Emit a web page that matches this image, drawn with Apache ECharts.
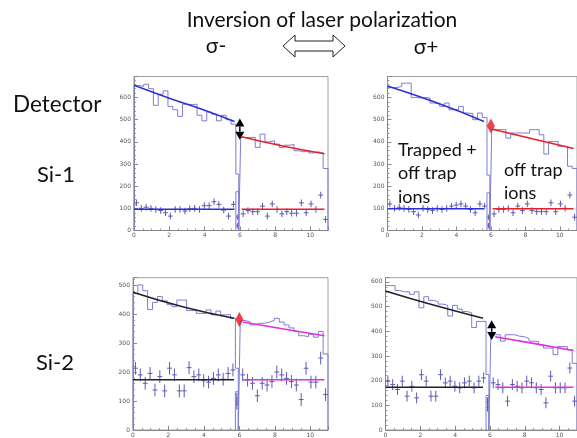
<!DOCTYPE html>
<html>
<head>
<meta charset="utf-8">
<script src="https://cdn.jsdelivr.net/npm/echarts@6/dist/echarts.min.js"></script>
<style>
html,body{margin:0;padding:0;background:#fff}
#main{width:577px;height:438px}
</style>
</head>
<body>
<div id="main"></div>
<script>
// binning: 40 bins of 0.275 on 0..11, the bin at the switch (21) is split in two
var BIN = 0.275, NBINS = 40, GAP_BIN = 21, GAP_SPLIT = 5.94;
var xTicks = ['0', '2', '4', '6', '8', '10'];

// Si-1, sigma-
var si1mTopL = [655, 650, 660, 640, 565, 615, 630, 560, 545, 515, 570, 568, 570, 520, 495, 535, 525, 495, 520, 500, 480];
var si1mTopGap = [255, 0];
var si1mTopR = [420, 420, 420, 375, 435, 400, 405, 390, 375, 385, 388, 360, 355, 360, 350, 355, 350, 280];
var si1mLowL = [125, 100, 105, 100, 95, 90, 80, 65, 95, 95, 88, 98, 100, 95, 112, 112, 130, 118, 92, 65, 118];
var si1mLowR = [75, 90, 85, 85, 110, 65, 120, 95, 75, 85, 78, 78, 125, 80, 120, 95, 160, 50];
var si1mLowGap = [175, 60, 22];
var si1mFitL = [[0, 655], [2, 597], [4, 543], [5.7, 492]];
var si1mFitR = [[6.1, 423], [8.5, 380], [10.8, 346]];
var si1mFlat = 96;
var si1mArrow = [6.0, 505, 410];

// Si-1, sigma+
var si1pTopL = [645, 645, 650, 665, 665, 600, 598, 600, 598, 575, 570, 560, 575, 545, 545, 560, 530, 528, 500, 530, 510];
var si1pTopGap = [250, 0];
var si1pTopR = [455, 455, 455, 417, 440, 440, 440, 440, 455, 455, 432, 345, 402, 402, 380, 378, 290, 280];
var si1pLowL = [120, 100, 105, 100, 95, 85, 70, 100, 95, 90, 100, 95, 100, 110, 115, 120, 110, 95, 80, 120, 110];
var si1pLowR = [75, 95, 95, 100, 80, 110, 90, 120, 90, 85, 85, 85, 125, 85, 120, 100, 160, 60];
var si1pLowGap = [170, 60, 22];
var si1pFitL = [[0, 652], [2.9, 575], [5.6, 492]];
var si1pFitR = [[6.1, 457], [8.4, 414], [10.8, 370]];
var si1pFlat = 98;
var si1pDiamond = [6.0, 472];

// Si-2, sigma-
var si2mTopL = [470, 500, 480, 415, 440, 460, 445, 432, 425, 448, 448, 412, 412, 402, 402, 414, 397, 410, 397, 398, 385];
var si2mTopGap = [213, 0];
var si2mTopR = [378, 372, 362, 368, 368, 372, 378, 385, 372, 362, 352, 340, 325, 322, 330, 320, 340, 262];
var si2mLowL = [213, 190, 161, 195, 138, 184, 135, 213, 190, 135, 135, 215, 184, 190, 170, 165, 178, 190, 175, 195, 207];
var si2mLowR = [190, 172, 161, 118, 161, 155, 167, 200, 190, 178, 167, 155, 105, 213, 165, 165, 248, 122];
var si2mLowGap = [132, 110, 88];
var si2mFitL = [[0, 475], [2.8, 425], [5.7, 385]];
var si2mFitR = [[6.2, 372], [8.5, 348], [10.8, 325]];
var si2mFlat = 173;
var si2mDiamond = [6.0, 381];

// Si-2, sigma+
var si2pTopL = [585, 585, 565, 560, 560, 550, 560, 495, 540, 525, 520, 510, 505, 462, 505, 490, 480, 475, 415, 440, 440];
var si2pTopGap = [225, 0];
var si2pTopR = [386, 386, 360, 386, 386, 380, 378, 370, 360, 358, 345, 332, 332, 305, 338, 338, 325, 270];
var si2pLowL = [198, 184, 164, 198, 137, 177, 130, 224, 198, 137, 137, 224, 191, 198, 177, 171, 191, 198, 171, 198, 211];
var si2pLowR = [191, 184, 171, 117, 184, 177, 171, 198, 191, 171, 164, 110, 218, 171, 171, 171, 251, 117];
var si2pLowGap = [140, 115, 92];
var si2pFitL = [[0, 563], [2.8, 505], [5.6, 453]];
var si2pFitR = [[6.3, 378], [8.4, 352], [10.8, 322]];
var si2pFlat = 173;
var si2pArrow = [6.1, 445, 365];

var HIST = '#7d7dd2', CROSS = '#5b5bb2';

var panels = [
  {grid: {left: 134, top: 76.5, width: 194, height: 154}, ymax: 695, err: 15,
   top: [si1mTopL, si1mTopGap, si1mTopR], low: [si1mLowL, si1mLowR], lowGap: si1mLowGap,
   fitL: si1mFitL, fitR: si1mFitR, flat: si1mFlat, cL: '#2f2fd8', cR: '#e8202a', arrow: si1mArrow},
  {grid: {left: 387.5, top: 76.5, width: 194.5, height: 154}, ymax: 695, err: 15,
   top: [si1pTopL, si1pTopGap, si1pTopR], low: [si1pLowL, si1pLowR], lowGap: si1pLowGap,
   fitL: si1pFitL, fitR: si1pFitR, flat: si1pFlat, cL: '#2f2fd8', cR: '#e8202a', diamond: si1pDiamond},
  {grid: {left: 133, top: 277.7, width: 195, height: 152.3}, ymax: 525, err: 22,
   top: [si2mTopL, si2mTopGap, si2mTopR], low: [si2mLowL, si2mLowR], lowGap: si2mLowGap,
   fitL: si2mFitL, fitR: si2mFitR, flat: si2mFlat, cL: '#222', cR: '#e030e0', diamond: si2mDiamond},
  {grid: {left: 385.5, top: 277.7, width: 194.7, height: 153}, ymax: 617, err: 22,
   top: [si2pTopL, si2pTopGap, si2pTopR], low: [si2pLowL, si2pLowR], lowGap: si2pLowGap,
   fitL: si2pFitL, fitR: si2pFitR, flat: si2pFlat, cL: '#222', cR: '#e030e0', arrow: si2pArrow}
];

// bin edges, with the extra split inside the switching bin
var edges = [];
for (var i = 0; i <= NBINS; i++) {
  edges.push(Math.round(i * BIN * 1000) / 1000);
  if (i === GAP_BIN) edges.push(GAP_SPLIT);
}

function renderCross(params, api) {
  var x = api.value(0), y = api.value(1), hw = api.value(2), er = api.value(3);
  var l = api.coord([x - hw, y]), r = api.coord([x + hw, y]);
  var t = api.coord([x, y + er]), b = api.coord([x, y - er]);
  return {type: 'group', children: [
    {type: 'line', shape: {x1: l[0], y1: l[1], x2: r[0], y2: r[1]}, style: {stroke: CROSS, lineWidth: 1}},
    {type: 'line', shape: {x1: t[0], y1: t[1], x2: b[0], y2: b[1]}, style: {stroke: CROSS, lineWidth: 1}}
  ]};
}

function renderArrow(params, api) {
  var p1 = api.coord([api.value(0), api.value(1)]);
  var p2 = api.coord([api.value(0), api.value(2)]);
  var w = 4.5, h = 8;
  return {type: 'group', children: [
    {type: 'line', shape: {x1: p1[0], y1: p1[1] + h, x2: p2[0], y2: p2[1] - h}, style: {stroke: '#000', lineWidth: 1.5}},
    {type: 'polygon', shape: {points: [[p1[0], p1[1]], [p1[0] - w, p1[1] + h], [p1[0] + w, p1[1] + h]]}, style: {fill: '#000'}},
    {type: 'polygon', shape: {points: [[p2[0], p2[1]], [p2[0] - w, p2[1] - h], [p2[0] + w, p2[1] - h]]}, style: {fill: '#000'}}
  ]};
}

var grids = [], xAxes = [], yAxes = [], series = [];
var axisFont = {fontSize: 6, color: '#555', fontFamily: 'DejaVu Sans'};

panels.forEach(function (p, k) {
  grids.push(Object.assign({show: true, borderColor: '#a0a0a0', borderWidth: 1, containLabel: false}, p.grid));
  xAxes.push({
    type: 'value', gridIndex: k, min: 0, max: 11, interval: 2,
    axisLine: {show: true, lineStyle: {color: '#888'}},
    axisTick: {inside: true, length: 4, lineStyle: {color: '#888'}},
    minorTick: {show: true, splitNumber: 4, length: 2, lineStyle: {color: '#999'}},
    splitLine: {show: false},
    axisLabel: Object.assign({margin: 2, showMaxLabel: false,
      formatter: function (v) { return xTicks[v / 2] || ''; }}, axisFont)
  });
  yAxes.push({
    type: 'value', gridIndex: k, min: 0, max: p.ymax, interval: 100,
    axisLine: {show: true, lineStyle: {color: '#888'}},
    axisTick: {inside: true, length: 4, lineStyle: {color: '#888'}},
    minorTick: {show: true, splitNumber: 5, length: 2, lineStyle: {color: '#999'}},
    splitLine: {show: false},
    axisLabel: Object.assign({margin: 3, showMaxLabel: false}, axisFont)
  });

  // upper histogram as a step outline
  var vals = p.top[0].concat(p.top[1], p.top[2]);
  var pts = [[edges[0], 0]];
  vals.forEach(function (v, j) { pts.push([edges[j], v]); });
  pts.push([edges[edges.length - 1], vals[vals.length - 1]]);
  pts.push([edges[edges.length - 1], 0]);
  series.push({type: 'line', xAxisIndex: k, yAxisIndex: k, step: 'end', data: pts,
    showSymbol: false, silent: true, lineStyle: {color: HIST, width: 1}, z: 2});

  // lower histogram: crosses with errors
  var cross = [];
  p.low[0].forEach(function (v, j) {
    cross.push([(edges[j] + edges[j + 1]) / 2, v, (edges[j + 1] - edges[j]) / 2, p.err]);
  });
  p.low[1].forEach(function (v, j) {
    var a = GAP_BIN + 2 + j;
    cross.push([(edges[a] + edges[a + 1]) / 2, v, (edges[a + 1] - edges[a]) / 2, p.err]);
  });
  var gc = (edges[GAP_BIN] + edges[GAP_BIN + 1]) / 2;
  cross.push([gc, p.lowGap[1], 0.06, p.err * 0.8]);
  cross.push([gc, p.lowGap[2], 0.06, p.err * 0.8]);
  series.push({type: 'custom', xAxisIndex: k, yAxisIndex: k, renderItem: renderCross, data: cross, silent: true, z: 3});

  // box of the lower histogram in the switching bin
  series.push({type: 'line', xAxisIndex: k, yAxisIndex: k, showSymbol: false, silent: true,
    lineStyle: {color: HIST, width: 1}, z: 2,
    data: [[edges[GAP_BIN], 0], [edges[GAP_BIN], p.lowGap[0]], [edges[GAP_BIN + 1], p.lowGap[0]], [edges[GAP_BIN + 1], 0]]});

  // fits
  series.push({type: 'line', xAxisIndex: k, yAxisIndex: k, smooth: true, showSymbol: false, silent: true,
    data: p.fitL, lineStyle: {color: p.cL, width: 1.6}, z: 4});
  series.push({type: 'line', xAxisIndex: k, yAxisIndex: k, smooth: true, showSymbol: false, silent: true,
    data: p.fitR, lineStyle: {color: p.cR, width: 1.6}, z: 4});
  series.push({type: 'line', xAxisIndex: k, yAxisIndex: k, showSymbol: false, silent: true,
    data: [[0, p.flat], [p.fitL[p.fitL.length - 1][0], p.flat]], lineStyle: {color: p.cL, width: 1.6}, z: 4});
  series.push({type: 'line', xAxisIndex: k, yAxisIndex: k, showSymbol: false, silent: true,
    data: [[p.fitR[0][0], p.flat], [p.fitR[p.fitR.length - 1][0], p.flat]], lineStyle: {color: p.cR, width: 1.6}, z: 4});

  if (p.arrow) {
    series.push({type: 'custom', xAxisIndex: k, yAxisIndex: k, renderItem: renderArrow, data: [p.arrow], silent: true, z: 6});
  }
  if (p.diamond) {
    series.push({type: 'scatter', xAxisIndex: k, yAxisIndex: k, symbol: 'diamond', symbolSize: [8, 15],
      data: [p.diamond], itemStyle: {color: '#e8101a'}, silent: true, z: 6});
  }
});

var txtFont = 'Lato, "Open Sans", sans-serif';
function label(text, x, y, size, align) {
  return {type: 'text', z: 10, style: {text: text, x: x, y: y, fill: '#111',
    font: size + 'px ' + txtFont, textAlign: align || 'left', textVerticalAlign: 'middle'}};
}

var option = {
  backgroundColor: '#fff',
  animation: false,
  grid: grids,
  xAxis: xAxes,
  yAxis: yAxes,
  series: series,
  graphic: [
    label('Inversion of laser polarization', 322, 20, 21, 'center'),
    label('σ-', 216, 46, 21, 'center'),
    label('σ+', 426, 47, 21, 'center'),
    {type: 'polygon', z: 10, shape: {points: [[283, 46], [295, 35], [295, 41], [333, 41], [333, 35], [345, 46], [333, 57], [333, 51], [295, 51], [295, 57]]},
      style: {fill: '#fff', stroke: '#222', lineWidth: 1}},
    label('Detector', 13, 105, 22.5),
    label('Si-1', 56, 175, 22, 'center'),
    label('Si-2', 55, 363, 22, 'center'),
    label('Trapped +', 398, 150, 18),
    label('off trap', 398, 173, 18),
    label('ions', 398, 197, 18),
    label('off trap', 504, 170, 18),
    label('ions', 504, 193, 18)
  ]
};

var myChart = echarts.init(document.getElementById('main'));
myChart.setOption(option);
window.addEventListener('resize', function () { myChart.resize(); });
</script>
</body>
</html>
